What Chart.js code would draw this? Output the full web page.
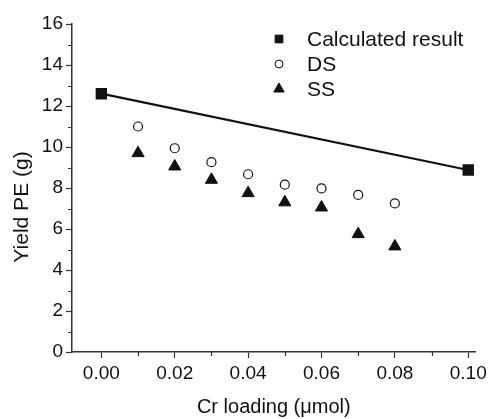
<!DOCTYPE html>
<html>
<head>
<meta charset="utf-8">
<script src="https://cdn.jsdelivr.net/npm/chart.js@4.4.1/dist/chart.umd.min.js"></script>
<style>
  html, body { margin: 0; padding: 0; background: #fff; }
  #wrap { width: 491px; height: 419px; }
</style>
</head>
<body>
<div id="wrap"><canvas id="yieldChart" width="491" height="419"></canvas></div>
<script>
/* ---- data ---- */
const loadings  = [0.01, 0.02, 0.03, 0.04, 0.05, 0.06, 0.07, 0.08];
const dsYield   = [11.0, 9.94, 9.26, 8.67, 8.16, 7.98, 7.66, 7.25];
const ssYield   = [9.7, 9.05, 8.4, 7.75, 7.3, 7.05, 5.75, 5.15];
const calcLoading = [0.00, 0.10];
const calcYield   = [12.6, 8.88];

const xTicks = [0.00, 0.02, 0.04, 0.06, 0.08, 0.10];
const xMinor = [0.01, 0.03, 0.05, 0.07, 0.09];
const yTicks = [0, 2, 4, 6, 8, 10, 12, 14, 16];
const yMinor = [1, 3, 5, 7, 9, 11, 13, 15];

const yTitle = 'Yield PE (g)';
const legendItems = [
  { text: 'Calculated result', style: 'rect',     radius: 5.5, fill: '#111' },
  { text: 'DS',                style: 'circle',   radius: 4,   fill: '#fff' },
  { text: 'SS',                style: 'triangle', radius: 6,   fill: '#111' }
];

const FONT = '"Liberation Sans", Arial, sans-serif';
const INK = '#111';

function pts(xs, ys) { return xs.map((x, i) => ({ x: x, y: ys[i] })); }

// small outward ticks between the labelled ones
const minorTicks = {
  id: 'minorTicks',
  afterDraw(chart) {
    const ctx = chart.ctx, xs = chart.scales.x, ys = chart.scales.y;
    ctx.save();
    ctx.strokeStyle = '#333';
    ctx.lineWidth = 1.2;
    ctx.beginPath();
    xMinor.forEach(v => {
      const px = Math.round(xs.getPixelForValue(v)) + 0.5;
      ctx.moveTo(px, ys.bottom); ctx.lineTo(px, ys.bottom + 4);
    });
    yMinor.forEach(v => {
      const py = Math.round(ys.getPixelForValue(v)) + 0.5;
      ctx.moveTo(xs.left, py); ctx.lineTo(xs.left - 4, py);
    });
    ctx.stroke();
    ctx.restore();
  }
};

// rotated y title, sitting a little below the middle of the axis
const yAxisTitle = {
  id: 'yAxisTitle',
  afterDraw(chart) {
    const ctx = chart.ctx, ys = chart.scales.y;
    ctx.save();
    ctx.translate(22, (ys.top + ys.bottom) / 2 + 19);
    ctx.rotate(-Math.PI / 2);
    ctx.font = '21px ' + FONT;
    ctx.fillStyle = INK;
    ctx.textAlign = 'center';
    ctx.textBaseline = 'middle';
    ctx.fillText(yTitle, 0, 0);
    ctx.restore();
  }
};

// legend block sitting inside the plot, top right
const insideLegend = {
  id: 'insideLegend',
  afterDraw(chart) {
    const ctx = chart.ctx;
    ctx.save();
    ctx.font = '21px ' + FONT;
    ctx.textBaseline = 'middle';
    legendItems.forEach((it, i) => {
      const y = 39 + i * 25;
      ctx.fillStyle = it.fill;
      ctx.strokeStyle = INK;
      Chart.helpers.drawPoint(ctx, {
        pointStyle: it.style, radius: it.radius, rotation: 0, borderWidth: 1.2
      }, 279, y);
      ctx.fillStyle = INK;
      ctx.fillText(it.text, 307, y + 1);
    });
    ctx.restore();
  }
};

new Chart(document.getElementById('yieldChart'), {
  type: 'scatter',
  data: {
    datasets: [
      {
        label: 'Calculated result',
        data: pts(calcLoading, calcYield),
        showLine: true, borderColor: INK, borderWidth: 2.2,
        pointStyle: 'rect', pointRadius: 6.5,
        pointBackgroundColor: INK, pointBorderColor: INK
      },
      {
        label: 'DS',
        data: pts(loadings, dsYield),
        pointStyle: 'circle', pointRadius: 4.5, pointBorderWidth: 1.2,
        pointBackgroundColor: '#fff', pointBorderColor: INK
      },
      {
        label: 'SS',
        data: pts(loadings, ssYield),
        pointStyle: 'triangle', pointRadius: 7, pointBorderWidth: 1,
        pointBackgroundColor: INK, pointBorderColor: INK
      }
    ]
  },
  options: {
    responsive: false, animation: false, devicePixelRatio: 1,
    layout: { padding: { top: 24, right: 14, left: 0, bottom: 0 } },
    plugins: { legend: { display: false }, tooltip: { enabled: false } },
    scales: {
      x: {
        type: 'linear', min: -0.008, max: 0.102,
        afterBuildTicks: s => { s.ticks = xTicks.map(v => ({ value: v })); },
        afterFit: s => { s.height = 67; },
        border: { color: '#333', width: 1.5 },
        grid: { drawOnChartArea: false, tickLength: 6, tickColor: '#333', tickWidth: 1.2 },
        ticks: { color: INK, font: { family: FONT, size: 19 }, padding: 4,
                 maxRotation: 0, callback: v => v.toFixed(2) },
        title: { display: true, text: 'Cr loading (μmol)', color: INK,
                 font: { family: FONT, size: 20 }, padding: { top: 0, bottom: 0 } }
      },
      y: {
        min: 0, max: 16,
        afterBuildTicks: s => { s.ticks = yTicks.map(v => ({ value: v })); },
        afterFit: s => { s.width = 72; },
        border: { color: '#333', width: 1.5 },
        grid: { drawOnChartArea: false, tickLength: 6, tickColor: '#333', tickWidth: 1.2 },
        ticks: { color: INK, font: { family: FONT, size: 19 }, padding: 3 }
      }
    }
  },
  plugins: [minorTicks, yAxisTitle, insideLegend]
});
</script>
</body>
</html>
